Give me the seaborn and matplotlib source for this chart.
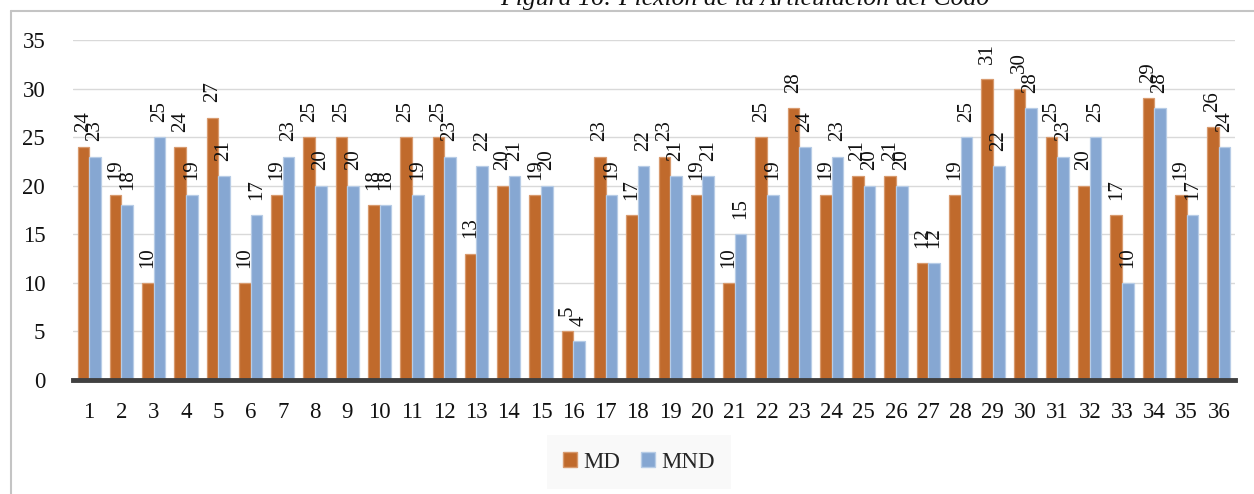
import matplotlib
matplotlib.use("Agg")
import matplotlib.pyplot as plt
from matplotlib.lines import Line2D
from matplotlib.patches import Patch
import seaborn as sns
import pandas as pd

# Elbow flexion per subject: dominant (MD) vs non-dominant (MND) limb
subjects = [str(i) for i in range(1, 37)]
md = [24, 19, 10, 24, 27, 10, 19, 25, 25, 18, 25, 25, 13, 20, 19, 5, 23, 17,
      23, 19, 10, 25, 28, 19, 21, 21, 12, 19, 31, 30, 25, 20, 17, 29, 19, 26]
mnd = [23, 18, 25, 19, 21, 17, 23, 20, 20, 18, 19, 23, 22, 21, 20, 4, 19, 22,
       21, 21, 15, 19, 24, 23, 20, 20, 12, 25, 22, 28, 23, 25, 10, 28, 17, 24]
series = ["MD", "MND"]
y_ticks = [0, 5, 10, 15, 20, 25, 30, 35]
title = "Figura 16: Flexión de la Articulación del Codo"

colors = {"MD": "#C06A2C", "MND": "#86A7D2"}
edges = {"MD": "#D89A6E", "MND": "#B7CCE6"}

df = pd.DataFrame({
    "sujeto": subjects * 2,
    "valor": md + mnd,
    "serie": ["MD"] * len(md) + ["MND"] * len(mnd),
})

sns.set_theme(style="white")
plt.rcParams["font.family"] = ["Liberation Serif", "DejaVu Serif"]

fig = plt.figure(figsize=(12.54, 4.94), dpi=100)
ax = fig.add_axes([73 / 1254, 1 - 380 / 494, (1235 - 73) / 1254, 340 / 494])

sns.barplot(data=df, x="sujeto", y="valor", hue="serie", hue_order=series,
            palette=colors, width=0.72, gap=0, ax=ax, legend=False,
            linewidth=0.9, saturation=1)

for cont, name in zip(ax.containers, series):
    for bar in cont:
        bar.set_edgecolor(edges[name])
    ax.bar_label(cont, labels=[str(v) for v in (md if name == "MD" else mnd)],
                 rotation=90, padding=11, fontsize=15, color="#111111")

ax.set_ylim(0, 35)
ax.set_xlim(-0.5, len(subjects) - 0.5)
ax.set_yticks(y_ticks)
ax.set_yticklabels([str(t) for t in y_ticks])
ax.yaxis.grid(True, color="#d9d9d9", linewidth=1)
ax.set_axisbelow(True)
ax.set_xlabel("")
ax.set_ylabel("")
for side in ["left", "right", "top"]:
    ax.spines[side].set_visible(False)
ax.spines["bottom"].set_color("#404040")
ax.spines["bottom"].set_linewidth(3.5)
ax.tick_params(axis="both", length=0, labelsize=16.5, colors="#111111")
ax.tick_params(axis="x", pad=16)
ax.tick_params(axis="y", pad=20)

# Chart frame (left and top edges) and the caption above it
fig.add_artist(Line2D([11 / 1254, 11 / 1254], [0, 1 - 11 / 494],
                      transform=fig.transFigure, color="#c4c4c4", linewidth=1.5))
fig.add_artist(Line2D([11 / 1254, 1], [1 - 11 / 494, 1 - 11 / 494],
                      transform=fig.transFigure, color="#c4c4c4", linewidth=1.5))
fig.text(745 / 1254, 1 - 5 / 494, title, ha="center", va="baseline",
         fontsize=18.5, style="italic", color="#111111")

handles = [Patch(facecolor=colors[s], edgecolor=edges[s], label=s) for s in series]
leg = fig.legend(handles=handles, loc="center", bbox_to_anchor=(639 / 1254, 1 - 462 / 494),
                 ncol=2, frameon=True, fontsize=16.5, handlelength=0.6, handleheight=0.6,
                 handletextpad=0.3, columnspacing=0.9, borderpad=0.7, fancybox=False)
leg.get_frame().set_facecolor("#f8f8f8")
leg.get_frame().set_edgecolor("none")

fig.savefig("out.png", dpi=100)
